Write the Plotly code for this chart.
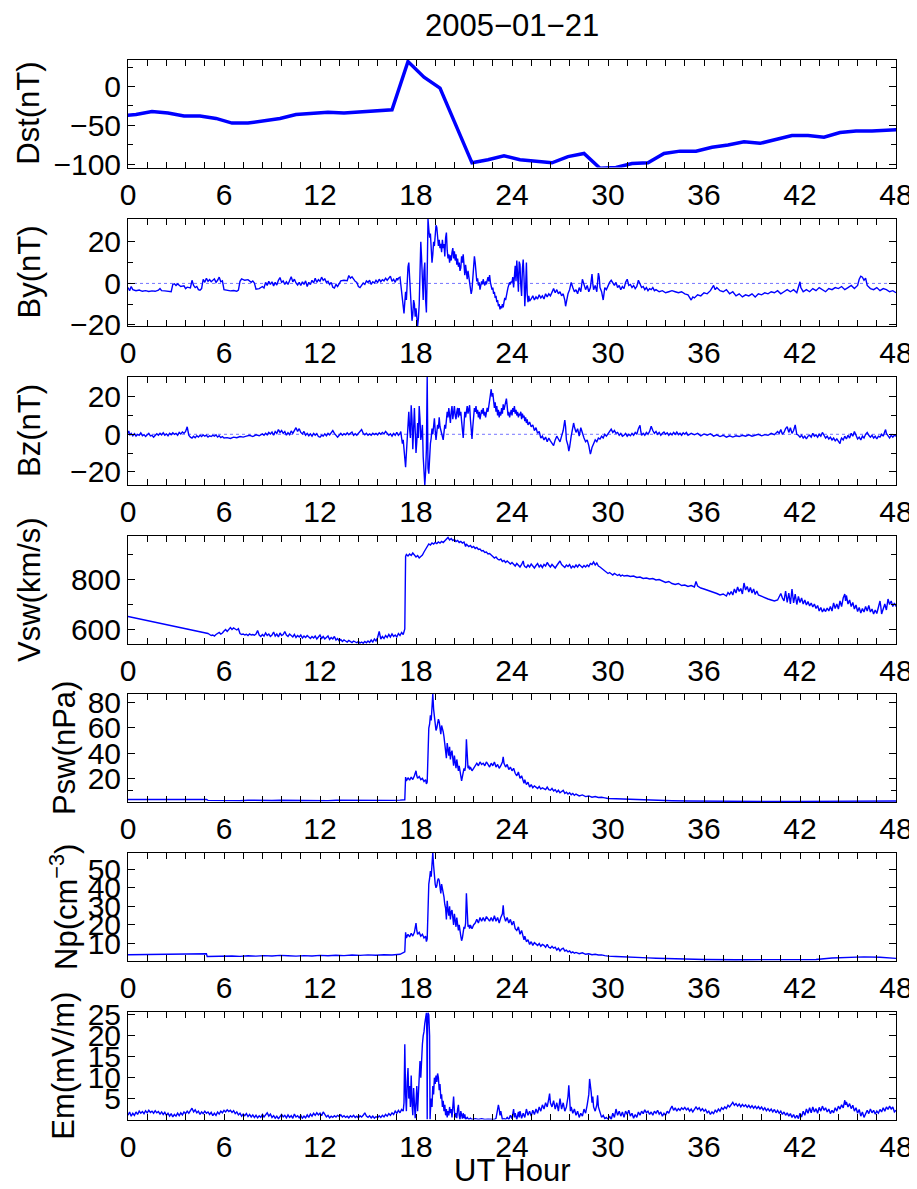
import plotly.graph_objects as go

# ---------------- data ----------------
DST_HOUR = [-0.5, 0.5, 1.5, 2.5, 3.5, 4.5, 5.5, 6.5, 7.5, 8.5, 9.5, 10.5, 11.5, 12.5, 13.5,
            14.5, 15.5, 16.5, 17.5, 18.5, 19.5, 20.5, 21.5, 22.5, 23.5, 24.5, 25.5, 26.5,
            27.5, 28.5, 29.5, 30.5, 31.5, 32.5, 33.5, 34.5, 35.5, 36.5, 37.5, 38.5, 39.5,
            40.5, 41.5, 42.5, 43.5, 44.5, 45.5, 46.5, 47.5, 48.5]
DST_NT = [-38, -36, -32, -34, -38, -38, -41, -47, -47, -44, -41, -36, -35, -33, -34,
          -33, -32, -30, 32, 12, -2, -50, -98, -94, -89, -94, -96, -98,
          -90, -86, -105, -104, -99, -98, -86, -83, -83, -78, -75, -71, -73,
          -68, -63, -63, -65, -59, -57, -57, -56, -55]

BY = [(0.0,-2.0),(0.1,-3.5),(0.2,-1.5),(0.3,-3.0),(0.5,-3.5),(0.7,-3.2),(0.9,-3.8),(1.1,-3.5),(1.3,-3.9),(1.5,-3.6),
      (1.7,-3.8),(1.9,-3.3),(2.0,-2.5),(2.1,-3.5),(2.3,-3.6),(2.5,-3.9),(2.7,-4.0),(2.8,-0.5),(2.9,-0.2),(3.0,-1.0),
      (3.1,-0.3),(3.3,-1.5),(3.5,-1.2),(3.6,-2.5),(3.7,-1.8),(3.9,-2.2),(4.0,1.5),(4.1,-1.0),(4.2,-2.0),(4.3,-1.5),
      (4.4,-3.0),(4.5,-3.3),(4.6,-2.5),(4.7,2.0),(4.8,0.5),(4.9,2.5),(5.0,1.0),(5.1,1.8),(5.2,0.8),(5.4,2.2),
      (5.5,0.5),(5.6,1.5),(5.7,3.0),(5.8,0.8),(5.9,1.2),(6.0,-3.0),(6.2,-3.3),(6.4,-3.6),(6.6,-3.4),(6.8,-3.8),
      (6.9,-3.2),(7.0,1.0),(7.1,2.2),(7.3,1.5),(7.5,1.8),(7.7,0.5),(7.8,1.2),(7.9,0.2),(8.0,-2.8),(8.2,-2.5),
      (8.4,-1.5),(8.5,-2.2),(8.6,0.5),(8.7,-1.0),(8.8,1.0),(8.9,-0.5),(9.0,0.8),(9.1,-1.2),(9.2,0.5),(9.3,-0.8),
      (9.4,1.5),(9.5,2.8),(9.6,0.5),(9.7,1.2),(9.8,-0.5),(9.9,0.8),(10.0,-0.5),(10.1,1.5),(10.2,3.2),(10.3,0.8),
      (10.4,2.0),(10.5,0.2),(10.6,-0.8),(10.7,0.5),(10.8,-1.0),(10.9,0.8),(11.0,-0.5),(11.1,1.2),(11.2,-1.5),(11.3,0.5),
      (11.4,-0.5),(11.5,1.5),(11.6,0.2),(11.7,2.5),(11.8,0.5),(11.9,1.8),(12.0,1.0),(12.1,3.0),(12.2,1.5),(12.3,2.2),
      (12.4,0.5),(12.5,1.0),(12.6,-0.5),(12.7,0.5),(12.8,-1.8),(12.9,-2.2),(13.0,-0.5),(13.1,-1.5),(13.2,-0.2),(13.3,1.2),
      (13.5,1.5),(13.7,1.3),(13.8,3.8),(13.9,2.5),(14.0,3.2),(14.1,1.8),(14.2,1.0),(14.3,0.5),(14.4,-1.5),(14.5,-2.0),
      (14.6,-1.0),(14.7,0.2),(14.8,-0.5),(14.9,1.2),(15.0,0.5),(15.1,1.5),(15.2,-0.5),(15.3,0.8),(15.4,0.2),(15.5,1.5),
      (15.6,0.5),(15.7,2.0),(15.8,0.8),(15.9,1.8),(16.0,1.2),(16.1,2.5),(16.2,1.5),(16.3,2.8),(16.4,3.5),(16.5,1.0),
      (16.6,2.0),(16.7,0.5),(16.8,2.5),(16.85,1.5),
      (16.9,2.5),(17.0,3.0),(17.05,-1.0),(17.1,-3.0),(17.15,-6.0),(17.2,-10.0),(17.25,-14.5),(17.3,-9.0),(17.35,-4.0),(17.4,-8.0),
      (17.45,2.0),(17.5,8.0),(17.55,10.0),(17.6,4.0),(17.65,-6.0),(17.7,-12.0),(17.75,-18.0),(17.8,-15.0),(17.85,-8.0),(17.9,-10.0),
      (17.95,-16.0),(18.0,-12.0),(18.05,-19.0),(18.1,-20.5),(18.15,-17.0),(18.2,-10.0),(18.25,5.0),(18.3,20.0),(18.35,12.0),(18.4,-3.0),
      (18.45,-8.0),(18.5,6.0),(18.55,10.0),(18.6,-8.0),(18.65,-14.0),(18.7,5.0),(18.75,31.0),(18.8,26.0),(18.85,22.0),(18.9,24.0),
      (18.95,15.0),(19.0,10.0),(19.05,14.0),(19.1,20.0),(19.15,18.0),(19.2,22.0),(19.25,28.0),(19.3,27.0),(19.35,22.0),(19.4,18.0),
      (19.45,21.0),(19.5,17.0),(19.55,19.0),(19.6,15.0),(19.65,21.0),(19.7,17.0),(19.75,19.0),(19.8,13.0),(19.85,22.0),(19.9,24.5),
      (19.95,16.0),(20.0,12.0),(20.05,14.0),(20.1,10.0),(20.15,13.5),(20.2,11.0),(20.25,15.0),(20.3,17.0),(20.35,12.0),(20.4,15.5),
      (20.45,11.0),(20.5,14.0),(20.55,9.0),(20.6,12.0),(20.65,8.0),(20.7,10.0),(20.75,6.0),(20.8,7.5),(20.85,13.0),(20.9,10.0),
      (20.95,14.0),(21.0,8.0),(21.05,4.0),(21.1,9.0),(21.15,5.0),(21.2,2.0),(21.25,6.0),(21.3,3.0),(21.35,0.0),(21.4,-2.0),
      (21.45,-5.0),(21.5,-3.0),(21.55,2.0),(21.6,8.0),(21.65,13.0),(21.7,10.0),(21.75,4.0),(21.8,1.0),(21.85,2.5),(21.9,-1.0),
      (21.95,0.5),(22.0,-3.0),(22.05,-1.0),(22.1,1.0),(22.15,-0.5),(22.2,2.0),(22.25,0.0),(22.3,-1.0),(22.35,1.0),(22.4,-0.5),
      (22.45,1.5),(22.5,3.0),(22.55,1.0),(22.6,4.0),(22.65,0.5),(22.7,-1.5),(22.75,-3.0),(22.8,-2.0),(22.85,-5.0),(22.9,-4.0),
      (22.95,-7.0),(23.0,-6.0),(23.05,-9.0),(23.1,-8.0),(23.15,-11.0),(23.2,-10.0),(23.25,-12.5),(23.3,-11.0),(23.35,-12.0),(23.4,-10.0),
      (23.45,-11.5),(23.5,-9.0),(23.55,-7.0),(23.6,-8.0),(23.65,-5.0),(23.7,-4.0),(23.75,-2.0),(23.8,-1.0),(23.85,0.5),(23.9,-0.5),
      (23.95,1.0),(24.0,0.5),(24.05,3.0),(24.1,-2.0),(24.15,6.0),(24.2,8.5),(24.25,1.0),(24.3,11.0),(24.35,4.0),(24.4,-4.0),
      (24.45,10.5),(24.5,9.0),(24.55,-1.0),(24.6,-6.0),(24.65,7.0),(24.7,11.5),(24.75,3.0),(24.8,-11.0),(24.85,-3.0),(24.9,10.0),
      (24.95,-5.0),(25.0,-9.0),(25.05,-6.0),(25.1,-8.5),(25.2,-7.5),(25.3,-6.0),(25.4,-8.0),(25.5,-6.5),(25.6,-7.5),(25.7,-5.5),
      (25.8,-7.0),(25.9,-6.0),(26.0,-7.5),(26.1,-5.0),(26.2,-6.5),(26.3,-5.0),(26.4,-6.0),(26.5,-4.0),(26.6,-2.5),(26.7,-4.5),
      (26.8,-3.0),(26.9,-5.0),(27.0,-4.0),(27.1,-6.0),(27.2,-5.0),(27.3,-8.0),(27.35,-11.0),(27.4,-9.0),(27.5,-5.0),(27.6,-3.0),
      (27.7,0.5),(27.8,-2.0),(27.9,-4.0),(28.0,-3.0),(28.1,-5.0),(28.2,-2.0),(28.3,-4.0),(28.4,2.0),(28.5,-1.0),(28.6,-3.0),
      (28.7,-1.0),(28.8,-4.0),(28.9,-2.0),(29.0,4.5),(29.05,0.0),(29.1,-3.0),(29.2,-1.0),(29.3,-4.0),(29.4,5.0),(29.45,3.0),
      (29.5,-2.0),(29.6,-4.0),(29.7,-8.0),(29.75,-5.0),(29.8,-2.0),(29.9,-3.0),(30.0,-1.0),(30.1,0.5),(30.2,1.5),(30.3,0.0),
      (30.4,-1.0),(30.5,0.5),(30.6,-2.0),(30.7,-1.0),(30.8,-3.0),(30.9,-1.5),(31.0,-2.5),(31.1,0.5),(31.2,2.0),(31.3,-1.0),
      (31.4,-0.5),(31.5,-2.0),(31.6,-1.0),(31.7,-2.5),(31.8,-1.5),(31.9,1.5),(32.0,-0.5),(32.1,-2.0),(32.2,-1.5),(32.3,-3.0),
      (32.4,-2.0),(32.5,-3.5),(32.6,-2.5),(32.7,-3.0),(32.8,-2.0),(32.9,-3.5),(33.0,-3.0),(33.2,-4.0),(33.4,-3.5),(33.6,-4.5),
      (33.8,-4.0),(34.0,-3.5),(34.2,-4.0),(34.4,-4.5),(34.6,-4.0),(34.8,-5.0),(35.0,-5.5),(35.1,-7.0),(35.2,-8.0),(35.3,-6.5),
      (35.4,-7.0),(35.6,-5.5),(35.8,-6.0),(36.0,-4.5),(36.2,-5.0),(36.4,-3.5),(36.5,-2.5),(36.6,-1.0),(36.7,-3.0),(36.8,-2.0),
      (37.0,-3.5),(37.2,-4.0),(37.4,-3.0),(37.6,-5.0),(37.8,-4.0),(38.0,-6.0),(38.2,-5.0),(38.4,-6.5),(38.6,-5.5),(38.8,-6.0),
      (39.0,-5.0),(39.2,-6.5),(39.4,-5.0),(39.6,-5.5),(39.8,-4.5),(40.0,-5.0),(40.2,-4.0),(40.4,-4.5),(40.6,-3.5),(40.8,-5.0),
      (41.0,-4.0),(41.2,-3.0),(41.4,-4.0),(41.6,-3.0),(41.8,-4.5),(41.9,-2.0),(42.0,0.8),(42.05,-2.0),(42.2,-4.0),(42.4,-3.0),
      (42.6,-4.0),(42.8,-2.5),(43.0,-3.5),(43.2,-2.0),(43.4,-3.0),(43.6,-4.0),(43.8,-2.5),(44.0,-3.0),(44.2,-2.0),(44.4,-2.5),
      (44.6,-1.5),(44.8,-3.0),(45.0,-2.0),(45.2,-1.0),(45.4,-2.5),(45.6,-1.0),(45.7,2.0),(45.8,3.5),(45.9,3.0),(46.0,1.5),
      (46.1,2.5),(46.2,-1.0),(46.4,-2.5),(46.6,-3.0),(46.8,-2.0),(47.0,-3.5),(47.2,-2.5),(47.4,-3.0),(47.6,-4.0),(47.8,-3.5),
      (48.0,-4.5)]

BZ = [(0.0,0.5),(0.05,1.8),(0.1,-0.5),(0.2,0.5),(0.3,-0.8),(0.4,0.3),(0.5,-1.0),(0.6,0.0),(0.7,-0.5),(0.8,0.8),
      (0.9,-0.8),(1.0,-0.2),(1.1,-1.2),(1.2,-0.3),(1.3,0.5),(1.4,-0.8),(1.5,-0.5),(1.6,-1.5),(1.7,-0.5),(1.8,0.3),
      (1.9,-0.5),(2.0,0.5),(2.1,-0.3),(2.2,0.8),(2.3,-0.5),(2.4,0.2),(2.5,-0.8),(2.6,0.5),(2.7,-0.2),(2.8,0.8),
      (2.9,0.0),(3.0,0.5),(3.1,-0.5),(3.2,1.0),(3.3,0.2),(3.4,1.2),(3.5,0.5),(3.6,1.5),(3.7,4.0),(3.75,1.0),
      (3.8,-0.5),(3.9,-1.5),(4.0,-2.0),(4.1,-1.0),(4.2,-1.8),(4.3,-0.8),(4.4,-1.5),(4.5,-0.5),(4.6,-1.2),(4.7,-0.3),
      (4.8,-1.0),(4.9,-0.5),(5.0,-1.5),(5.1,-0.8),(5.2,-1.2),(5.3,-0.5),(5.4,-1.0),(5.5,-0.3),(5.6,-1.5),(5.7,-0.8),
      (5.8,-1.8),(5.9,-1.2),(6.0,-2.0),(6.2,-1.8),(6.4,-2.2),(6.6,-1.5),(6.8,-1.8),(7.0,-1.2),(7.2,-1.5),(7.4,-1.0),
      (7.6,-0.5),(7.8,-1.2),(8.0,-0.3),(8.2,-0.8),(8.4,0.2),(8.5,-0.5),(8.6,0.5),(8.7,-0.3),(8.8,1.0),(8.9,0.2),
      (9.0,1.2),(9.1,-0.5),(9.2,1.5),(9.3,0.5),(9.4,2.5),(9.5,1.0),(9.6,2.0),(9.7,0.5),(9.8,1.5),(9.9,-0.5),
      (10.0,0.8),(10.1,-0.2),(10.2,1.8),(10.3,0.5),(10.4,2.5),(10.5,3.5),(10.6,1.5),(10.7,3.0),(10.8,1.0),(10.9,0.2),
      (11.0,1.5),(11.1,-0.5),(11.2,0.5),(11.3,-0.8),(11.4,0.2),(11.5,-1.0),(11.6,0.5),(11.7,-0.5),(11.8,0.3),(11.9,-1.2),
      (12.0,-1.5),(12.1,-0.5),(12.2,-1.0),(12.3,0.2),(12.4,-0.8),(12.5,0.5),(12.6,-0.3),(12.7,1.0),(12.8,2.0),(12.9,0.5),
      (13.0,-0.5),(13.1,-1.5),(13.2,-0.5),(13.3,0.5),(13.4,-0.5),(13.5,0.3),(13.6,-0.3),(13.7,0.8),(13.8,-0.2),(13.9,0.5),
      (14.0,1.2),(14.1,-0.5),(14.2,0.3),(14.3,-0.5),(14.4,0.5),(14.5,1.0),(14.6,2.5),(14.7,0.5),(14.8,-0.3),(14.9,0.5),
      (15.0,-0.5),(15.1,0.2),(15.2,-0.5),(15.3,0.5),(15.4,-0.2),(15.5,0.5),(15.6,-0.3),(15.7,0.8),(15.8,0.0),(15.9,1.0),
      (16.0,0.2),(16.1,1.5),(16.2,0.5),(16.3,-0.5),(16.4,0.3),(16.5,-1.0),(16.6,0.5),(16.7,-0.5),(16.8,1.0),(16.9,-0.5),
      (17.0,0.5),(17.05,1.5),(17.1,-2.0),(17.15,-5.0),(17.2,-3.0),(17.25,-9.0),(17.3,-12.0),(17.35,-17.5),(17.4,-10.0),(17.45,-4.0),
      (17.5,5.0),(17.55,12.0),(17.6,3.0),(17.65,-2.0),(17.7,15.5),(17.75,8.0),(17.8,-8.0),(17.85,5.0),(17.9,14.0),(17.95,2.0),
      (18.0,-10.0),(18.05,-4.0),(18.1,6.0),(18.15,-2.0),(18.2,15.0),(18.25,8.0),(18.3,-3.0),(18.35,0.0),(18.4,5.0),(18.45,-12.0),
      (18.5,-25.5),(18.55,-27.0),(18.6,-20.0),(18.65,-8.0),(18.7,31.0),(18.72,10.0),(18.75,-18.0),(18.8,-21.0),(18.85,-10.0),(18.9,-5.0),
      (18.95,-2.0),(19.0,3.0),(19.05,0.0),(19.1,6.0),(19.15,8.5),(19.2,2.0),(19.25,-3.0),(19.3,1.0),(19.35,5.0),(19.4,3.0),
      (19.45,9.0),(19.5,4.0),(19.55,2.0),(19.6,0.0),(19.65,-1.0),(19.7,-3.0),(19.75,1.0),(19.8,5.0),(19.85,3.0),(19.9,8.0),
      (19.95,12.0),(20.0,9.0),(20.05,14.0),(20.1,10.0),(20.15,6.0),(20.2,12.0),(20.25,15.0),(20.3,8.0),(20.35,13.0),(20.4,15.0),
      (20.45,10.0),(20.5,8.0),(20.55,12.0),(20.6,14.0),(20.65,9.0),(20.7,14.0),(20.75,10.0),(20.8,12.0),(20.85,7.0),(20.9,3.0),
      (20.95,-2.0),(21.0,5.0),(21.05,12.0),(21.1,9.0),(21.15,14.0),(21.2,15.0),(21.25,11.0),(21.3,13.0),(21.35,15.5),(21.4,8.0),
      (21.45,2.0),(21.5,-2.5),(21.55,4.0),(21.6,10.0),(21.65,14.0),(21.7,12.0),(21.75,15.0),(21.8,11.0),(21.85,13.0),(21.9,9.0),
      (21.95,12.0),(22.0,8.0),(22.05,10.0),(22.1,13.0),(22.15,11.0),(22.2,14.0),(22.25,10.0),(22.3,12.0),(22.35,9.0),(22.4,11.0),
      (22.45,14.0),(22.5,12.0),(22.55,16.0),(22.6,18.0),(22.65,21.0),(22.7,24.0),(22.75,20.0),(22.8,22.0),(22.85,16.0),(22.9,14.0),
      (22.95,17.0),(23.0,12.0),(23.05,15.0),(23.1,10.0),(23.15,13.0),(23.2,9.0),(23.25,12.0),(23.3,10.0),(23.35,14.0),(23.4,11.0),
      (23.45,16.0),(23.5,13.0),(23.55,15.0),(23.6,18.0),(23.65,19.0),(23.7,15.0),(23.75,10.0),(23.8,12.0),(23.85,9.0),(23.9,11.0),
      (23.95,13.0),(24.0,10.0),(24.05,14.0),(24.1,12.0),(24.15,15.0),(24.2,11.0),(24.25,13.0),(24.3,10.0),(24.35,12.0),(24.4,9.0),
      (24.45,11.0),(24.5,10.0),(24.55,12.0),(24.6,8.0),(24.65,11.0),(24.7,9.0),(24.75,10.0),(24.8,7.0),(24.85,9.0),(24.9,6.0),
      (24.95,8.0),(25.0,5.0),(25.1,6.5),(25.2,4.0),(25.3,5.0),(25.4,2.0),(25.5,3.5),(25.6,0.5),(25.7,1.5),(25.8,-2.0),
      (25.9,-1.0),(26.0,-3.0),(26.1,-1.5),(26.2,-4.0),(26.3,-2.0),(26.4,-3.5),(26.5,-5.0),(26.6,-6.0),(26.7,-3.0),(26.8,-1.0),
      (26.9,-2.5),(27.0,-4.0),(27.1,-1.0),(27.2,2.0),(27.3,7.5),(27.35,4.0),(27.4,-3.0),(27.5,-6.0),(27.55,-9.0),(27.6,-7.0),
      (27.7,-1.0),(27.8,3.0),(27.85,6.0),(27.9,4.0),(28.0,1.0),(28.1,3.0),(28.2,-1.0),(28.3,3.5),(28.4,0.0),(28.5,-2.0),
      (28.6,-4.0),(28.7,-3.0),(28.8,-6.0),(28.9,-10.5),(28.95,-9.0),(29.0,-7.0),(29.1,-5.0),(29.2,-3.0),(29.3,-4.0),(29.4,-2.0),
      (29.5,-2.5),(29.6,-1.0),(29.7,-2.0),(29.8,0.0),(29.9,-1.0),(30.0,0.5),(30.1,1.5),(30.2,2.7),(30.3,1.0),(30.4,2.0),
      (30.5,0.5),(30.6,1.0),(30.7,-0.5),(30.8,0.5),(30.9,-1.0),(31.0,-0.5),(31.1,0.5),(31.2,-1.0),(31.3,0.0),(31.4,-0.8),
      (31.5,0.5),(31.6,-0.5),(31.7,1.0),(31.8,0.0),(31.9,3.0),(32.0,4.8),(32.05,1.5),(32.1,-0.5),(32.2,0.5),(32.3,-0.5),
      (32.4,1.0),(32.5,0.0),(32.6,1.5),(32.7,4.3),(32.8,2.0),(32.9,0.5),(33.0,1.5),(33.1,0.0),(33.2,1.0),(33.3,-0.5),
      (33.4,0.5),(33.5,1.2),(33.6,0.0),(33.7,0.8),(33.8,-0.5),(33.9,0.5),(34.0,-0.3),(34.1,1.0),(34.2,0.0),(34.3,1.2),
      (34.4,-0.2),(34.5,0.5),(34.6,-0.5),(34.7,0.8),(34.8,0.0),(34.9,1.0),(35.0,-0.5),(35.2,0.5),(35.4,-0.3),(35.6,0.5),
      (35.8,-0.8),(36.0,0.2),(36.2,-0.5),(36.4,0.3),(36.6,-1.0),(36.8,-0.3),(37.0,-1.2),(37.2,-0.5),(37.4,-1.5),(37.6,-0.8),
      (37.8,-1.5),(38.0,-0.8),(38.2,-1.2),(38.4,-0.5),(38.6,-1.0),(38.8,-0.3),(39.0,-1.0),(39.2,-0.5),(39.4,0.0),(39.6,-0.8),
      (39.8,-0.2),(40.0,-0.5),(40.2,0.5),(40.4,-0.2),(40.6,1.5),(40.7,0.5),(40.8,2.5),(40.9,0.0),(41.0,1.0),(41.1,3.0),
      (41.2,4.0),(41.3,1.0),(41.4,3.5),(41.5,0.5),(41.6,2.0),(41.7,5.0),(41.75,2.5),(41.8,0.0),(41.9,-0.5),(42.0,-1.5),
      (42.1,-0.5),(42.2,-2.0),(42.3,-1.0),(42.4,-2.5),(42.5,-1.0),(42.6,-0.5),(42.7,-1.5),(42.8,0.5),(42.9,-1.0),(43.0,-0.3),
      (43.1,-1.5),(43.2,0.0),(43.3,-1.0),(43.4,1.0),(43.5,-0.5),(43.6,-2.0),(43.7,-1.0),(43.8,-2.5),(43.9,-1.5),(44.0,-3.0),
      (44.1,-2.0),(44.2,-3.5),(44.3,-2.5),(44.4,-4.0),(44.5,-5.0),(44.55,-3.0),(44.6,-2.0),(44.7,-3.0),(44.8,-1.0),(44.9,-2.5),
      (45.0,-0.5),(45.1,-2.0),(45.2,0.5),(45.3,-1.0),(45.4,1.5),(45.5,-0.5),(45.6,-2.5),(45.7,-1.5),(45.8,-3.0),(45.9,-1.0),
      (46.0,-2.0),(46.1,0.0),(46.2,1.0),(46.3,-0.5),(46.4,-1.5),(46.5,-0.5),(46.6,-2.0),(46.7,-1.0),(46.8,-2.5),(46.9,-1.0),
      (47.0,-1.5),(47.1,0.0),(47.2,-1.0),(47.3,1.5),(47.35,2.5),(47.4,0.5),(47.5,-1.0),(47.6,-2.0),(47.7,-0.5),(47.8,-1.5),
      (47.9,-0.5),(48.0,-1.0)]

VSW = [(0.0,650),(4.9,585),(5.0,582),(5.1,578),(5.2,574),(5.3,576),(5.4,572),(5.5,578),(5.6,582),(5.7,586),
       (5.8,580),(5.9,584),(6.0,592),(6.1,598),(6.2,590),(6.3,600),(6.4,606),(6.5,598),(6.6,604),(6.7,600),
       (6.8,596),(6.9,601),(7.0,582),(7.1,578),(7.2,580),(7.3,576),(7.4,579),(7.5,574),(7.6,580),(7.7,576),
       (7.8,578),(7.9,575),(8.0,580),(8.1,594),(8.15,586),(8.2,576),(8.3,570),(8.4,578),(8.5,572),(8.6,584),
       (8.7,574),(8.8,580),(8.9,570),(9.0,576),(9.1,588),(9.2,572),(9.3,580),(9.4,568),(9.5,584),(9.6,574),
       (9.7,578),(9.8,590),(9.9,576),(10.0,570),(10.1,580),(10.2,574),(10.3,568),(10.4,578),(10.5,566),(10.6,574),
       (10.7,568),(10.8,576),(10.9,564),(11.0,572),(11.1,566),(11.2,574),(11.3,568),(11.4,562),(11.5,570),(11.6,564),
       (11.7,572),(11.8,560),(11.9,568),(12.0,576),(12.1,562),(12.2,570),(12.3,560),(12.4,566),(12.5,572),(12.6,558),
       (12.7,566),(12.8,560),(12.9,570),(13.0,556),(13.1,562),(13.2,552),(13.3,558),(13.4,550),(13.5,556),(13.6,552),
       (13.7,548),(13.8,554),(13.9,550),(14.0,546),(14.1,552),(14.2,548),(14.3,545),(14.4,550),(14.5,544),(14.6,548),
       (14.7,543),(14.8,550),(14.9,545),(15.0,552),(15.1,546),(15.2,556),(15.3,548),(15.4,560),(15.5,552),(15.6,566),
       (15.7,590),(15.75,575),(15.8,560),(15.9,570),(16.0,562),(16.1,574),(16.2,566),(16.3,578),(16.4,568),(16.5,580),
       (16.6,570),(16.7,576),(16.8,568),(16.9,582),(17.0,574),(17.1,586),(17.2,578),(17.3,600),(17.35,890),(17.4,898),
       (17.5,892),(17.6,900),(17.7,894),(17.8,904),(17.9,896),(18.0,888),(18.1,894),(18.2,884),(18.3,890),(18.4,896),
       (18.5,908),(18.6,920),(18.7,930),(18.8,940),(18.9,936),(19.0,944),(19.1,940),(19.2,946),(19.3,942),(19.4,948),
       (19.5,944),(19.6,950),(19.7,946),(19.8,952),(19.9,958),(20.0,966),(20.1,956),(20.2,962),(20.3,954),(20.4,958),
       (20.5,950),(20.6,954),(20.7,946),(20.8,950),(20.9,944),(21.0,948),(21.1,930),(21.15,940),(21.2,936),(21.3,930),
       (21.4,934),(21.5,926),(21.6,930),(21.7,922),(21.8,926),(21.9,918),(22.0,920),(22.1,912),(22.2,914),(22.3,906),
       (22.4,908),(22.5,900),(22.6,902),(22.7,894),(22.8,890),(22.9,884),(23.0,888),(23.1,880),(23.2,876),(23.3,880),
       (23.4,870),(23.5,874),(23.6,866),(23.7,872),(23.8,864),(23.9,860),(24.0,866),(24.1,858),(24.2,852),(24.3,862),
       (24.4,854),(24.5,848),(24.6,858),(24.7,872),(24.75,856),(24.8,850),(24.9,846),(25.0,856),(25.1,848),(25.2,860),
       (25.3,852),(25.4,844),(25.5,854),(25.6,862),(25.7,848),(25.8,856),(25.9,846),(26.0,858),(26.1,852),(26.2,866),
       (26.3,856),(26.4,848),(26.5,858),(26.6,850),(26.7,844),(26.8,854),(26.9,862),(27.0,872),(27.1,858),(27.2,850),
       (27.3,846),(27.4,856),(27.5,850),(27.6,858),(27.7,844),(27.8,852),(27.9,846),(28.0,856),(28.1,848),(28.2,858),
       (28.3,852),(28.4,846),(28.5,854),(28.6,848),(28.7,856),(28.8,850),(28.9,862),(29.0,858),(29.1,868),(29.2,856),
       (29.3,864),(29.4,852),(29.5,848),(29.6,842),(29.7,836),(29.8,830),(29.9,828),(30.0,822),(30.1,826),(30.2,820),
       (30.3,816),(30.4,822),(30.5,818),(30.6,814),(30.7,818),(30.8,812),(30.9,816),(31.0,812),(31.2,814),(31.4,810),
       (31.6,812),(31.8,806),(32.0,808),(32.2,802),(32.4,804),(32.6,800),(32.8,802),(33.0,796),(33.2,798),(33.4,792),
       (33.6,786),(33.8,790),(34.0,782),(34.2,778),(34.4,782),(34.6,774),(34.8,776),(35.0,770),(35.2,774),(35.4,768),
       (35.5,790),(35.6,772),(35.8,764),(36.0,760),(36.2,756),(36.4,752),(36.6,746),(36.8,742),(37.0,736),(37.2,740),
       (37.4,732),(37.5,746),(37.6,738),(37.7,750),(37.8,736),(37.9,760),(38.0,744),(38.1,768),(38.2,750),(38.3,762),
       (38.4,740),(38.5,784),(38.6,756),(38.7,770),(38.8,748),(38.9,766),(39.0,744),(39.1,760),(39.2,738),(39.3,752),
       (39.4,736),(39.6,730),(39.8,724),(40.0,720),(40.2,716),(40.4,712),(40.6,716),(40.7,730),(40.8,742),(40.9,724),
       (41.0,712),(41.1,752),(41.15,718),(41.2,706),(41.3,744),(41.4,700),(41.5,760),(41.55,712),(41.6,704),(41.7,740),
       (41.8,698),(41.9,730),(42.0,706),(42.1,724),(42.2,700),(42.3,716),(42.4,696),(42.5,710),(42.6,692),(42.7,704),
       (42.8,688),(42.9,700),(43.0,682),(43.1,694),(43.2,672),(43.3,686),(43.4,668),(43.5,680),(43.6,670),(43.7,684),
       (43.8,672),(43.9,690),(44.0,672),(44.1,704),(44.2,682),(44.3,700),(44.4,680),(44.5,712),(44.6,690),(44.7,724),
       (44.8,740),(44.85,712),(44.9,734),(45.0,700),(45.1,716),(45.2,690),(45.3,706),(45.4,680),(45.5,696),(45.6,670),
       (45.7,686),(45.8,664),(45.9,682),(46.0,668),(46.1,690),(46.2,672),(46.3,694),(46.4,668),(46.5,680),(46.6,660),
       (46.7,676),(46.8,662),(46.9,684),(47.0,712),(47.05,690),(47.1,660),(47.2,680),(47.3,700),(47.4,676),(47.5,720),
       (47.6,698),(47.7,712),(47.8,690),(47.9,704),(48.0,690)]

PSW = [(0.0,3.2),(4.9,3.2),(5.0,2.5),(5.5,2.4),(6.0,2.6),(6.5,2.5),(7.0,2.3),(7.5,2.6),(8.0,2.4),(8.5,2.7),
       (9.0,2.4),(9.5,2.6),(10.0,2.5),(10.5,2.7),(11.0,2.4),(11.5,2.6),(12.0,2.5),(12.5,2.3),(13.0,2.6),(13.5,2.5),
       (14.0,2.4),(14.5,2.6),(15.0,2.5),(15.5,2.4),(16.0,2.6),(16.5,2.5),(17.0,2.7),(17.3,3.0),(17.35,21.0),(17.4,18.0),
       (17.5,20.5),(17.6,18.5),(17.7,21.0),(17.8,19.0),(17.9,22.0),(18.0,26.0),(18.05,22.0),(18.1,20.0),(18.2,21.5),(18.3,19.0),
       (18.4,20.0),(18.5,17.5),(18.6,19.0),(18.65,15.5),(18.7,17.0),(18.75,40.0),(18.8,60.0),(18.85,63.0),(18.9,70.0),(18.95,66.0),
       (19.0,78.0),(19.05,87.0),(19.1,75.0),(19.15,68.0),(19.2,62.0),(19.25,58.0),(19.3,60.0),(19.35,66.0),(19.4,67.0),(19.45,65.0),
       (19.5,58.0),(19.55,55.0),(19.6,62.0),(19.65,60.0),(19.7,57.0),(19.75,53.0),(19.8,47.0),(19.85,44.0),(19.9,36.0),(19.95,48.0),
       (20.0,42.0),(20.05,38.0),(20.1,45.0),(20.15,35.0),(20.2,40.0),(20.25,42.0),(20.3,36.0),(20.35,30.0),(20.4,38.0),(20.45,33.0),
       (20.5,28.0),(20.55,35.0),(20.6,31.0),(20.65,26.0),(20.7,30.0),(20.75,24.0),(20.8,22.0),(20.85,18.0),(20.9,21.0),(20.95,25.0),
       (21.0,28.0),(21.05,26.0),(21.1,30.0),(21.15,51.0),(21.2,34.0),(21.25,28.0),(21.3,30.0),(21.35,27.0),(21.4,29.0),(21.5,26.0),
       (21.6,28.0),(21.7,30.0),(21.8,32.0),(21.9,30.0),(22.0,33.0),(22.1,31.0),(22.2,32.0),(22.3,30.0),(22.4,33.0),(22.5,31.0),
       (22.6,29.0),(22.7,32.0),(22.8,30.0),(22.9,33.0),(23.0,29.0),(23.1,31.0),(23.2,28.0),(23.3,30.0),(23.4,33.0),(23.45,37.0),
       (23.5,32.0),(23.6,29.0),(23.7,31.0),(23.8,27.0),(23.9,29.0),(24.0,26.0),(24.1,28.0),(24.2,24.0),(24.3,22.0),(24.4,25.0),
       (24.5,20.0),(24.6,22.0),(24.7,18.0),(24.75,16.0),(24.8,19.0),(24.9,15.0),(25.0,17.0),(25.1,13.0),(25.2,15.0),(25.3,12.5),
       (25.4,14.0),(25.5,13.0),(25.6,12.0),(25.7,13.5),(25.8,11.5),(25.9,12.5),(26.0,12.0),(26.1,11.0),(26.2,13.0),(26.3,11.0),
       (26.4,10.5),(26.5,12.0),(26.6,10.0),(26.7,11.0),(26.8,9.0),(26.9,10.5),(27.0,8.5),(27.1,9.5),(27.2,10.5),(27.3,8.0),
       (27.4,9.0),(27.5,7.5),(27.6,8.5),(27.7,7.0),(27.8,8.0),(27.9,6.5),(28.0,7.5),(28.2,6.0),(28.4,6.8),(28.6,5.5),
       (28.8,6.0),(29.0,5.0),(29.2,5.5),(29.4,4.8),(29.6,5.0),(29.8,4.5),(30.0,4.0),(30.5,3.8),(31.0,3.5),(31.5,3.2),
       (32.0,3.0),(32.5,2.8),(33.0,2.5),(34.0,2.2),(35.0,2.0),(36.0,1.8),(38.0,1.7),(40.0,1.6),(42.0,1.7),(44.0,1.8),
       (45.0,2.2),(46.0,2.3),(47.0,2.1),(48.0,2.0)]

NP = [(0.0,4.0),(4.9,4.5),(4.95,3.0),(5.5,3.2),(6.0,3.0),(6.5,3.3),(7.0,3.1),(7.5,3.4),(8.0,3.2),(8.5,3.5),
      (9.0,3.3),(9.5,3.6),(10.0,3.4),(10.5,3.2),(11.0,3.5),(11.5,3.3),(12.0,3.6),(12.5,3.4),(13.0,3.7),(13.5,3.5),
      (14.0,3.8),(14.5,3.6),(15.0,3.9),(15.5,3.7),(16.0,4.0),(16.5,3.8),(17.0,4.2),(17.3,5.5),(17.35,16.0),(17.4,13.0),
      (17.5,15.0),(17.6,13.5),(17.7,15.5),(17.8,14.0),(17.9,16.0),(18.0,21.0),(18.05,17.0),(18.1,15.0),(18.2,16.0),(18.3,14.0),
      (18.4,15.0),(18.5,13.0),(18.6,14.0),(18.65,11.0),(18.7,12.5),(18.75,30.0),(18.8,42.0),(18.85,45.0),(18.9,49.0),(18.95,46.0),
      (19.0,53.0),(19.05,59.0),(19.1,52.0),(19.15,46.0),(19.2,42.0),(19.25,40.0),(19.3,41.0),(19.35,44.0),(19.4,45.0),(19.45,44.0),
      (19.5,39.0),(19.55,37.0),(19.6,42.0),(19.65,40.0),(19.7,38.0),(19.75,35.0),(19.8,31.0),(19.85,29.0),(19.9,23.0),(19.95,33.0),
      (20.0,28.0),(20.05,25.0),(20.1,30.0),(20.15,23.0),(20.2,27.0),(20.25,28.0),(20.3,24.0),(20.35,20.0),(20.4,26.0),(20.45,22.0),
      (20.5,19.0),(20.55,24.0),(20.6,21.0),(20.65,17.0),(20.7,20.0),(20.75,15.0),(20.8,14.0),(20.85,11.5),(20.9,13.0),(20.95,16.0),
      (21.0,19.0),(21.05,18.0),(21.1,21.0),(21.15,37.0),(21.2,24.0),(21.25,19.0),(21.3,20.0),(21.35,18.0),(21.4,20.0),(21.5,18.0),
      (21.6,20.0),(21.7,21.0),(21.8,23.0),(21.9,21.0),(22.0,24.0),(22.1,22.0),(22.2,24.0),(22.3,22.0),(22.4,24.5),(22.5,23.0),
      (22.6,22.0),(22.7,24.0),(22.8,22.0),(22.9,25.0),(23.0,22.0),(23.1,24.0),(23.2,21.0),(23.3,24.0),(23.4,26.0),(23.45,30.5),
      (23.5,25.0),(23.6,22.0),(23.7,24.0),(23.8,21.0),(23.9,23.0),(24.0,20.0),(24.1,22.0),(24.2,18.0),(24.3,17.0),(24.4,19.0),
      (24.5,15.0),(24.6,17.0),(24.7,13.0),(24.75,12.0),(24.8,14.0),(24.9,11.0),(25.0,12.0),(25.1,9.5),(25.2,11.0),(25.3,9.0),
      (25.4,10.5),(25.5,9.5),(25.6,9.0),(25.7,10.0),(25.8,8.5),(25.9,9.5),(26.0,9.0),(26.1,8.0),(26.2,9.5),(26.3,8.0),
      (26.4,7.5),(26.5,8.5),(26.6,7.5),(26.7,8.0),(26.8,6.5),(26.9,7.5),(27.0,6.0),(27.1,7.0),(27.2,7.5),(27.3,6.0),
      (27.4,6.5),(27.5,5.5),(27.6,6.0),(27.7,5.0),(27.8,5.5),(27.9,4.8),(28.0,5.2),(28.2,4.5),(28.4,5.0),(28.6,4.2),
      (28.8,4.5),(29.0,4.0),(29.2,4.2),(29.4,3.8),(29.6,3.9),(29.8,3.5),(30.0,3.2),(30.5,3.0),(31.0,2.9),(31.5,2.7),
      (32.0,2.5),(32.5,2.3),(33.0,2.1),(34.0,1.8),(35.0,1.6),(36.0,1.4),(38.0,1.3),(40.0,1.3),(42.0,1.3),(43.0,1.4),
      (44.0,2.2),(45.0,2.6),(46.0,2.8),(47.0,2.6),(48.0,2.0)]

EM = [(0.0,1.0),(0.1,1.8),(0.2,0.8),(0.3,1.5),(0.4,1.0),(0.5,1.8),(0.6,1.2),(0.7,2.0),(0.8,1.5),(0.9,1.9),
      (1.0,1.4),(1.1,2.1),(1.2,1.6),(1.3,2.2),(1.4,1.7),(1.5,2.0),(1.6,1.5),(1.7,2.1),(1.8,1.6),(1.9,1.9),
      (2.0,1.3),(2.1,1.8),(2.2,1.2),(2.3,1.7),(2.4,1.0),(2.5,1.5),(2.6,0.8),(2.7,1.4),(2.8,0.6),(2.9,1.2),
      (3.0,0.8),(3.1,1.5),(3.2,0.9),(3.3,1.6),(3.4,1.1),(3.5,1.8),(3.6,1.4),(3.7,2.0),(3.8,1.5),(3.9,2.2),
      (4.0,2.7),(4.1,1.8),(4.2,2.3),(4.3,1.6),(4.4,2.0),(4.5,1.2),(4.6,1.8),(4.7,1.4),(4.8,2.0),(4.9,1.5),
      (5.0,1.8),(5.1,1.2),(5.2,1.7),(5.3,0.9),(5.4,1.5),(5.5,1.0),(5.6,1.8),(5.7,1.3),(5.8,2.0),(5.9,1.6),
      (6.0,2.2),(6.1,1.8),(6.2,2.3),(6.3,1.9),(6.4,2.2),(6.5,1.7),(6.6,2.1),(6.7,1.4),(6.8,1.8),(6.9,1.1),
      (7.0,1.5),(7.1,0.8),(7.2,1.3),(7.3,0.9),(7.4,1.4),(7.5,0.7),(7.6,1.2),(7.7,0.6),(7.8,1.1),(7.9,0.5),
      (8.0,1.0),(8.1,0.4),(8.2,0.9),(8.3,0.5),(8.4,1.2),(8.5,0.6),(8.6,1.0),(8.7,1.6),(8.8,0.8),(8.9,1.3),
      (9.0,0.5),(9.1,0.9),(9.2,0.3),(9.3,0.8),(9.4,0.2),(9.5,0.7),(9.6,1.2),(9.7,0.6),(9.8,1.0),(9.9,0.4),
      (10.0,1.1),(10.1,0.5),(10.2,0.9),(10.3,0.3),(10.4,1.3),(10.5,0.6),(10.6,0.9),(10.7,0.4),(10.8,1.0),(10.9,0.3),
      (11.0,0.8),(11.1,0.4),(11.2,1.1),(11.3,0.5),(11.4,1.3),(11.5,0.8),(11.6,1.5),(11.7,1.0),(11.8,1.6),(11.9,1.1),
      (12.0,1.5),(12.1,0.9),(12.2,1.8),(12.3,1.2),(12.4,0.6),(12.5,1.0),(12.6,0.4),(12.7,0.8),(12.8,0.5),(12.9,0.9),
      (13.0,0.6),(13.1,1.0),(13.2,0.7),(13.3,1.1),(13.4,0.6),(13.5,0.9),(13.6,0.5),(13.7,0.8),(13.8,0.4),(13.9,0.9),
      (14.0,0.6),(14.1,1.0),(14.2,0.5),(14.3,0.8),(14.4,0.4),(14.5,0.9),(14.6,0.6),(14.7,1.0),(14.8,1.6),(14.9,0.8),
      (15.0,0.5),(15.1,0.9),(15.2,0.4),(15.3,0.8),(15.4,0.3),(15.5,0.7),(15.6,0.4),(15.7,0.9),(15.8,0.5),(15.9,1.0),
      (16.0,0.6),(16.1,1.2),(16.2,0.8),(16.3,1.4),(16.4,1.0),(16.5,1.6),(16.6,1.2),(16.7,2.0),(16.8,1.5),(16.9,2.2),
      (17.0,1.6),(17.1,2.4),(17.2,2.0),(17.25,4.0),(17.3,18.0),(17.35,6.0),(17.4,2.0),(17.45,9.0),(17.5,12.3),(17.55,5.0),
      (17.6,8.0),(17.65,3.0),(17.7,10.5),(17.75,4.0),(17.8,1.0),(17.85,7.5),(17.9,3.0),(17.95,0.3),(18.0,4.0),(18.05,8.0),
      (18.1,2.0),(18.15,6.0),(18.2,12.0),(18.25,14.0),(18.3,10.0),(18.35,16.0),(18.4,18.0),(18.45,20.0),(18.5,21.0),(18.55,23.0),
      (18.6,24.5),(18.65,25.5),(18.68,20.0),(18.7,0.0),(18.72,22.0),(18.75,25.5),(18.8,25.0),(18.85,20.0),(18.88,0.0),(18.9,2.0),
      (18.95,5.0),(19.0,3.0),(19.05,8.0),(19.1,6.0),(19.15,10.0),(19.2,8.5),(19.25,10.5),(19.3,9.0),(19.35,11.0),(19.4,10.0),
      (19.45,7.0),(19.5,8.5),(19.55,5.0),(19.6,6.0),(19.65,3.0),(19.7,4.5),(19.75,2.0),(19.8,3.5),(19.85,1.0),(19.9,2.5),
      (19.95,0.5),(20.0,2.0),(20.05,1.0),(20.1,3.0),(20.15,1.5),(20.2,2.5),(20.25,0.5),(20.3,4.0),(20.35,5.5),(20.4,2.0),
      (20.45,0.5),(20.5,1.5),(20.55,0.3),(20.6,2.5),(20.65,3.5),(20.7,1.0),(20.75,0.0),(20.8,2.0),(20.85,1.0),(20.9,0.2),
      (20.95,1.5),(21.0,0.3),(21.05,1.2),(21.1,0.0),(21.2,0.5),(21.3,0.0),(21.4,0.3),(21.5,0.0),(21.7,0.2),(21.9,0.0),
      (22.1,0.2),(22.3,0.0),(22.5,0.1),(22.7,0.0),(22.9,0.0),(23.0,0.3),(23.1,2.0),(23.15,3.5),(23.2,2.5),(23.25,1.0),
      (23.3,2.0),(23.35,0.3),(23.4,0.0),(23.5,0.2),(23.6,0.0),(23.7,0.5),(23.8,0.0),(23.9,1.0),(24.0,0.2),(24.1,2.5),
      (24.15,0.5),(24.2,1.5),(24.3,0.0),(24.4,1.8),(24.45,0.5),(24.5,2.0),(24.6,0.3),(24.7,1.5),(24.8,0.5),(24.9,2.5),
      (25.0,1.0),(25.1,2.0),(25.2,0.8),(25.3,2.2),(25.4,1.2),(25.5,2.5),(25.6,1.5),(25.7,3.0),(25.8,2.0),(25.9,3.5),
      (26.0,2.5),(26.1,4.0),(26.2,3.0),(26.3,5.0),(26.35,6.2),(26.4,4.0),(26.5,3.0),(26.6,4.5),(26.7,2.5),(26.8,4.0),
      (26.9,2.0),(27.0,5.0),(27.05,3.5),(27.1,2.5),(27.2,4.0),(27.3,2.0),(27.4,3.0),(27.5,5.5),(27.55,8.2),(27.6,4.0),
      (27.65,2.0),(27.7,3.0),(27.8,1.5),(27.9,2.5),(28.0,1.0),(28.1,2.0),(28.2,0.5),(28.3,1.5),(28.4,0.8),(28.5,2.5),
      (28.6,1.5),(28.7,3.5),(28.8,6.0),(28.85,9.7),(28.9,8.5),(28.95,6.5),(29.0,4.0),(29.05,5.5),(29.1,3.0),(29.2,2.0),
      (29.3,3.5),(29.35,5.8),(29.4,3.0),(29.5,1.5),(29.6,0.5),(29.7,1.0),(29.8,0.2),(29.9,0.5),(30.0,0.0),(30.1,0.8),
      (30.2,0.0),(30.3,1.5),(30.4,0.5),(30.5,2.5),(30.6,1.0),(30.7,2.0),(30.8,0.8),(30.9,1.8),(31.0,0.5),(31.1,2.0),
      (31.2,1.2),(31.3,2.2),(31.4,0.8),(31.5,1.5),(31.6,0.3),(31.7,1.2),(31.8,0.5),(31.9,1.8),(32.0,1.0),(32.1,2.0),
      (32.2,1.4),(32.3,2.3),(32.4,1.6),(32.5,2.0),(32.6,1.2),(32.7,1.8),(32.8,1.0),(32.9,2.0),(33.0,1.5),(33.1,2.2),
      (33.2,1.3),(33.3,1.8),(33.4,0.8),(33.5,1.5),(33.6,1.0),(33.7,2.0),(33.8,1.5),(33.9,2.5),(34.0,3.2),(34.1,2.2),
      (34.2,2.8),(34.3,2.0),(34.4,2.6),(34.5,2.2),(34.6,2.8),(34.7,2.4),(34.8,2.9),(34.9,2.3),(35.0,2.7),(35.1,2.0),
      (35.2,2.5),(35.3,1.8),(35.4,2.6),(35.5,3.0),(35.6,2.4),(35.7,2.8),(35.8,2.1),(35.9,2.6),(36.0,2.0),(36.1,2.4),
      (36.2,1.6),(36.3,2.0),(36.4,1.2),(36.5,1.8),(36.6,1.4),(36.7,2.2),(36.8,1.8),(36.9,2.5),(37.0,2.0),(37.1,2.8),
      (37.2,2.4),(37.3,3.0),(37.4,2.6),(37.5,3.4),(37.6,3.0),(37.7,3.5),(37.8,4.1),(37.9,3.4),(38.0,3.8),(38.1,3.2),
      (38.2,3.7),(38.3,3.0),(38.4,3.6),(38.5,3.1),(38.6,3.5),(38.7,2.9),(38.8,3.4),(38.9,2.8),(39.0,3.3),(39.1,2.7),
      (39.2,3.2),(39.3,2.6),(39.4,3.1),(39.5,2.5),(39.6,3.0),(39.7,2.3),(39.8,2.8),(39.9,2.1),(40.0,2.6),(40.1,2.0),
      (40.2,2.5),(40.3,1.8),(40.4,2.4),(40.5,1.6),(40.6,2.2),(40.7,1.5),(40.8,2.0),(40.9,1.2),(41.0,1.8),(41.1,1.0),
      (41.2,1.6),(41.3,0.8),(41.4,1.4),(41.5,0.5),(41.6,1.2),(41.7,0.3),(41.8,1.0),(41.9,0.2),(42.0,1.5),(42.1,0.6),
      (42.2,2.0),(42.3,1.0),(42.4,2.5),(42.5,1.5),(42.6,2.8),(42.7,1.6),(42.8,3.0),(42.9,1.8),(43.0,2.6),(43.1,1.5),
      (43.2,2.9),(43.3,2.0),(43.4,3.2),(43.5,2.2),(43.6,2.8),(43.7,1.8),(43.8,2.5),(43.9,1.4),(44.0,2.2),(44.1,1.6),
      (44.2,2.8),(44.3,2.0),(44.4,3.2),(44.5,2.5),(44.6,3.5),(44.7,2.8),(44.8,4.6),(44.85,3.5),(44.9,4.2),(45.0,3.0),
      (45.1,3.8),(45.2,2.6),(45.3,3.4),(45.4,2.0),(45.5,2.8),(45.6,1.5),(45.7,2.4),(45.8,0.8),(45.9,1.8),(46.0,0.5),
      (46.1,1.5),(46.2,2.2),(46.3,1.4),(46.4,2.5),(46.5,1.6),(46.6,2.2),(46.7,1.3),(46.8,2.0),(46.9,1.5),(47.0,2.4),
      (47.1,1.8),(47.2,2.8),(47.3,2.0),(47.4,3.0),(47.5,2.4),(47.6,3.2),(47.7,2.5),(47.8,3.0),(47.9,1.8),(48.0,2.2)]

X_TICKS = [0, 6, 12, 18, 24, 30, 36, 42, 48]
TITLE = "2005\u221201\u221221"
X_LABEL = "UT Hour"
Y_LABELS = ["Dst(nT)", "By(nT)", "Bz(nT)", "Vsw(km/s)", "Psw(nPa)",
            "Np(cm<sup>\u22123</sup>)", "Em(mV/m)"]

# ---------------- layout / style ----------------
W, H = 917, 1189
OFF = 8          # page body margin of the html page
LEFT, RIGHT = 128 - OFF, 896 - OFF
PANELS = [(60, 167.5), (219, 326), (377, 485), (536, 644), (694, 802), (853, 961), (1012, 1119.5)]
Y_RANGES = [[-104, 34], [-20.5, 31], [-27, 30.5], [540, 972], [1.2, 87], [0.6, 58.7], [0, 25.7]]
Y_TICKS = [[-100, -50, 0], [-20, 0, 20], [-20, 0, 20], [600, 800], [20, 40, 60, 80],
           [10, 20, 30, 40, 50], [5, 10, 15, 20, 25]]
Y_MINOR = [[-75, -25, 25], [-10, 10], [-10, 10], [700, 900], [10], [], []]
TITLE_X = [29, 29, 29, 29, 64, 64, 64]
FONT = "Liberation Sans, Arial, Helvetica, sans-serif"
TICK_SIZE = 30
LABEL_SIZE = 31
BLUE = "#0000ff"

series = [
    (DST_HOUR, DST_NT),
    ([p[0] for p in BY], [p[1] for p in BY]),
    ([p[0] for p in BZ], [p[1] for p in BZ]),
    ([p[0] for p in VSW], [p[1] for p in VSW]),
    ([p[0] for p in PSW], [p[1] for p in PSW]),
    ([p[0] for p in NP], [p[1] for p in NP]),
    ([p[0] for p in EM], [p[1] for p in EM]),
]

fig = go.Figure()
layout = dict(
    width=W, height=H,
    margin=dict(l=LEFT, r=W - RIGHT, t=0, b=0, pad=0, autoexpand=False),
    paper_bgcolor="white", plot_bgcolor="white",
    showlegend=False,
    font=dict(family=FONT, size=TICK_SIZE, color="black"),
)


def ypaper(py):
    return 1 - (py - OFF) / H


annotations = []
shapes = []
for i, ((xs, ys), (top, bot)) in enumerate(zip(series, PANELS)):
    n = i + 1
    xa = "x" if n == 1 else f"x{n}"
    ya = "y" if n == 1 else f"y{n}"
    fig.add_trace(go.Scatter(
        x=xs, y=ys, mode="lines", xaxis=xa, yaxis=ya,
        line=dict(color=BLUE, width=3.5 if n == 1 else 1.4),
        hoverinfo="skip"))
    axis_common = dict(
        showline=True, linecolor="black", linewidth=1, mirror="allticks",
        ticks="inside", tickcolor="black", tickwidth=1, showgrid=False, zeroline=False,
        automargin=False,
        tickfont=dict(family=FONT, size=TICK_SIZE, color="black"),
    )
    layout["xaxis" if n == 1 else f"xaxis{n}"] = dict(
        axis_common, domain=[0, 1], anchor=ya, range=[0, 48],
        tickmode="array", tickvals=X_TICKS, ticklen=6,
        minor=dict(dtick=1.2, tick0=0, ticks="inside", ticklen=6, tickcolor="black", showgrid=False),
    )
    ymin = dict(ticks="inside", ticklen=5, tickcolor="black", showgrid=False)
    if Y_MINOR[i]:
        ymin.update(tickmode="array", tickvals=Y_MINOR[i])
    else:
        ymin.update(ticks="")
    layout["yaxis" if n == 1 else f"yaxis{n}"] = dict(
        axis_common, domain=[ypaper(bot), ypaper(top)], anchor=xa, range=Y_RANGES[i],
        tickmode="array", tickvals=Y_TICKS[i], ticklen=7, minor=ymin,
    )
    annotations.append(dict(
        text=Y_LABELS[i], textangle=-90, xref="paper", yref="paper",
        x=0, xshift=TITLE_X[i] - 128, y=ypaper((top + bot) / 2),
        xanchor="center", yanchor="middle", showarrow=False,
        font=dict(family=FONT, size=LABEL_SIZE, color="black")))
    if n in (2, 3):
        shapes.append(dict(type="line", xref=xa, yref=ya, x0=0, x1=48, y0=0, y1=0,
                           line=dict(color="rgba(0,0,255,0.55)", width=1, dash="dot"), layer="below"))

annotations.append(dict(text=TITLE, xref="paper", yref="paper", x=0.5, y=ypaper(26),
                        xanchor="center", yanchor="middle", showarrow=False,
                        font=dict(family=FONT, size=LABEL_SIZE, color="black")))
annotations.append(dict(text=X_LABEL, xref="paper", yref="paper", x=0.5, y=ypaper(1170),
                        xanchor="center", yanchor="middle", showarrow=False,
                        font=dict(family=FONT, size=LABEL_SIZE, color="black")))
layout["annotations"] = annotations
layout["shapes"] = shapes
fig.update_layout(**layout)
fig.write_html("out.html")
